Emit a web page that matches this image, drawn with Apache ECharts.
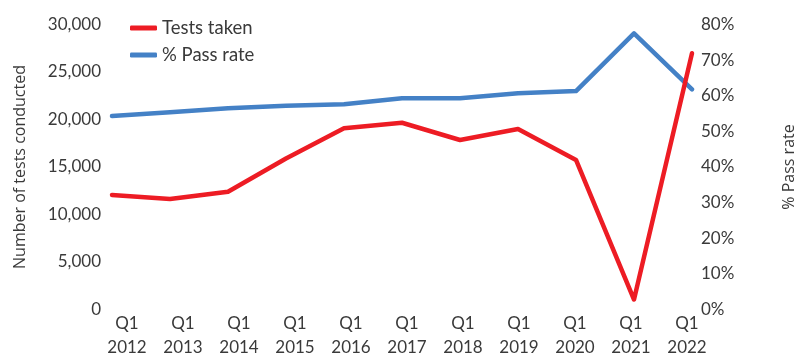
<!DOCTYPE html>
<html>
<head>
<meta charset="utf-8">
<script src="https://cdn.jsdelivr.net/npm/echarts@6/dist/echarts.min.js"></script>
<style>
  html, body { margin: 0; padding: 0; background: #fff; }
  #chart { width: 805px; height: 360px; }
</style>
</head>
<body>
<div id="chart"></div>
<script>
// Quarterly categories
const categories = ['Q1\n2012', 'Q1\n2013', 'Q1\n2014', 'Q1\n2015', 'Q1\n2016', 'Q1\n2017',
                    'Q1\n2018', 'Q1\n2019', 'Q1\n2020', 'Q1\n2021', 'Q1\n2022'];
// Number of tests conducted
const testsTaken = [12050, 11630, 12400, 15900, 19070, 19660, 17840, 19000, 15740, 1050, 26970];
// Pass rate, percent
const passRate = [54.3, 55.4, 56.5, 57.2, 57.6, 59.3, 59.3, 60.7, 61.3, 77.5, 61.8];

const leftTicks = { min: 0, max: 30000, interval: 5000 };
const rightTicks = { min: 0, max: 80, interval: 10 };

const textColor = '#3a3a3a';
const fontFamily = 'Lato, "Open Sans", sans-serif';
const nameFont = '"Open Sans", sans-serif';
const red = '#ED1C24';
const blue = '#4481C6';

const chart = echarts.init(document.getElementById('chart'), null, { renderer: 'canvas' });

chart.setOption({
  animation: false,
  textStyle: { fontFamily: fontFamily, color: textColor },
  legend: {
    orient: 'vertical',
    left: 125,
    top: 13,
    itemWidth: 27,
    itemHeight: 5,
    itemGap: 7,
    icon: 'roundRect',
    textStyle: { fontSize: 18.5, color: textColor, fontFamily: fontFamily, lineHeight: 20 },
    data: ['Tests taken', '% Pass rate']
  },
  grid: [
    { left: 112, right: 98, top: 24.5, bottom: 50.5 },
    { left: 127, right: 118, top: 24.5, bottom: 50.5 }
  ],
  xAxis: [
    {
      type: 'category', gridIndex: 0, data: categories, boundaryGap: false,
      axisLine: { show: false }, axisTick: { show: false }, axisLabel: { show: false },
      splitLine: { show: false }
    },
    {
      type: 'category', gridIndex: 1, data: categories, boundaryGap: false,
      axisLine: { show: false }, axisTick: { show: false }, splitLine: { show: false },
      axisLabel: { fontSize: 17, color: textColor, fontFamily: fontFamily, lineHeight: 24, margin: 10, interval: 0 }
    }
  ],
  yAxis: [
    {
      type: 'value', gridIndex: 0, position: 'left',
      min: leftTicks.min, max: leftTicks.max, interval: leftTicks.interval,
      name: 'Number of tests conducted', nameLocation: 'middle', nameRotate: 90, nameGap: 84,
      nameTextStyle: { fontSize: 16, color: textColor, fontFamily: nameFont },
      axisLine: { show: false }, axisTick: { show: false }, splitLine: { show: false },
      axisLabel: {
        fontSize: 17, color: textColor, fontFamily: fontFamily, margin: 11,
        formatter: v => v.toLocaleString('en-US')
      }
    },
    {
      type: 'value', gridIndex: 0, position: 'right',
      min: rightTicks.min, max: rightTicks.max, interval: rightTicks.interval,
      name: '% Pass rate', nameLocation: 'middle', nameRotate: 90, nameGap: 89,
      nameTextStyle: { fontSize: 16, color: textColor, fontFamily: nameFont },
      axisLine: { show: false }, axisTick: { show: false }, splitLine: { show: false },
      axisLabel: { fontSize: 17, color: textColor, fontFamily: fontFamily, margin: 9, formatter: '{value}%' }
    },
    { type: 'value', gridIndex: 1, show: false }
  ],
  series: [
    {
      name: 'Tests taken', type: 'line', xAxisIndex: 0, yAxisIndex: 0,
      data: testsTaken, symbol: 'none', color: red,
      lineStyle: { width: 4.5, color: red, cap: 'round', join: 'round' }
    },
    {
      name: '% Pass rate', type: 'line', xAxisIndex: 0, yAxisIndex: 1,
      data: passRate, symbol: 'none', color: blue, z: 1,
      lineStyle: { width: 4.5, color: blue, cap: 'round', join: 'round' }
    }
  ]
});
</script>
</body>
</html>
